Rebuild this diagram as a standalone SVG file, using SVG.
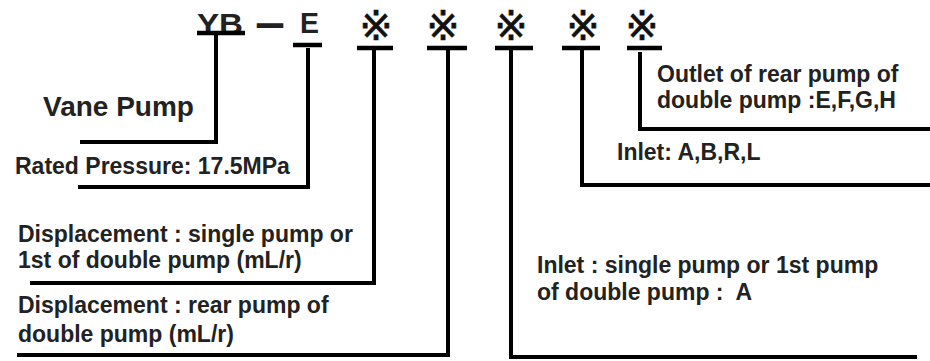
<svg xmlns="http://www.w3.org/2000/svg" width="930" height="361" viewBox="0 0 930 361">
<style>
.t{font-family:"Liberation Sans",Arial,sans-serif;font-weight:bold;fill:#222;font-size:23px}
.big{font-size:28px}
.ttl{font-size:30px}
.mk{font-family:"DejaVu Sans",sans-serif;font-size:40px;fill:#111;stroke:#111;stroke-width:0.6;text-anchor:middle}
.ln{stroke:#000;stroke-width:4;fill:none;stroke-linejoin:miter}
.ul{stroke:#000;stroke-width:4.5;fill:none}
</style>
<rect width="930" height="361" fill="#fff"/>
<g id="code">
  <g id="code-YB"><text class="t ttl" x="197" y="34" textLength="46" lengthAdjust="spacingAndGlyphs" fill="#1a2a1a">YB</text><line class="ul" x1="197" y1="33" x2="245" y2="33"/></g>
  <g id="code-dash"><text class="t big" x="257" y="33" textLength="26" lengthAdjust="spacingAndGlyphs" stroke="#222" stroke-width="2">–</text></g>
  <g id="code-E"><text class="t ttl" x="300" y="33" textLength="19" lengthAdjust="spacingAndGlyphs">E</text><line class="ul" x1="293" y1="45" x2="322" y2="45"/></g>
  <g id="code-m1"><text class="mk" x="376" y="40">※</text><line class="ul" x1="357" y1="48" x2="393" y2="48"/></g>
  <g id="code-m2"><text class="mk" x="443" y="40">※</text><line class="ul" x1="427" y1="48" x2="467" y2="48"/></g>
  <g id="code-m3"><text class="mk" x="511" y="40">※</text><line class="ul" x1="495" y1="48" x2="533" y2="48"/></g>
  <g id="code-m4"><text class="mk" x="583" y="40">※</text><line class="ul" x1="562" y1="48" x2="600" y2="48"/></g>
  <g id="code-m5"><text class="mk" x="642" y="40">※</text><line class="ul" x1="627" y1="48" x2="662" y2="48"/></g>
</g>
<g id="connectors">
  <path class="ln" d="M216,33 V142 H80"/>
  <path class="ln" d="M308,48 V187 H78"/>
  <path class="ln" d="M374,48 V283 H30"/>
  <path class="ln" d="M448,48 V355 H17"/>
  <path class="ln" d="M511,48 V357 H917"/>
  <path class="ln" d="M582,48 V185 H930"/>
  <path class="ln" d="M640,52 V129 H930"/>
</g>
<g id="label-vane"><text class="t big" x="43" y="116">Vane Pump</text></g>
<g id="label-pressure"><text class="t" x="15" y="174">Rated Pressure: 17.5MPa</text></g>
<g id="label-disp1"><text class="t" x="18" y="242">Displacement : single pump or</text><text class="t" x="18" y="268">1st of double pump (mL/r)</text></g>
<g id="label-disp2"><text class="t" x="18" y="313">Displacement : rear pump of</text><text class="t" x="18" y="342">double pump (mL/r)</text></g>
<g id="label-inlet1"><text class="t" x="537" y="273">Inlet : single pump or 1st pump</text><text class="t" x="537" y="300" xml:space="preserve">of double pump :  A</text></g>
<g id="label-inlet2"><text class="t" x="617" y="160">Inlet: A,B,R,L</text></g>
<g id="label-outlet"><text class="t" x="657" y="82">Outlet of rear pump of</text><text class="t" x="657" y="108">double pump :E,F,G,H</text></g>
</svg>
